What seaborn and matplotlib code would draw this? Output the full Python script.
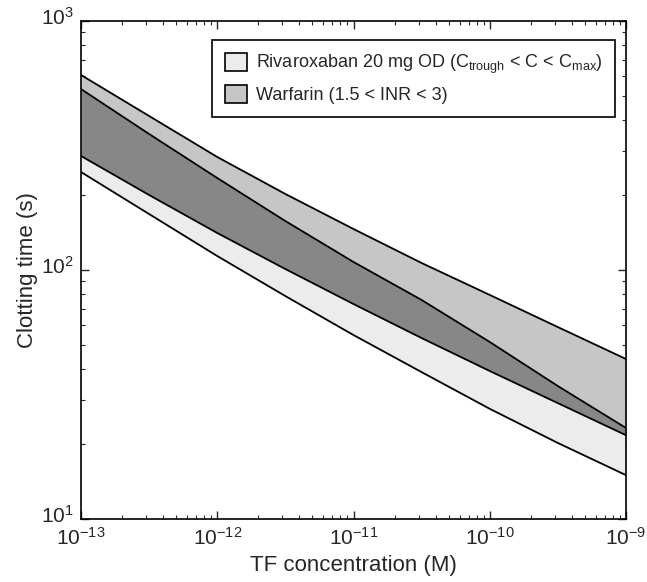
import numpy as np
import pandas as pd
import seaborn as sns
import matplotlib.pyplot as plt
import matplotlib.transforms as mtransforms
from matplotlib.patches import Patch

# TF concentration (M), half-decade steps
tf_conc = [1e-13, 3.16e-13, 1e-12, 3.16e-12, 1e-11, 3.16e-11, 1e-10, 3.16e-10, 1e-9]

# clotting time bands (s)
warf_hi = [607, 415.5, 284.4, 202.0, 146.1, 106.7, 79.4, 59.0, 43.9]
warf_lo = [287, 200.1, 140.8, 100.9, 73.0, 53.3, 39.3, 29.2, 21.7]
riva_hi = [533, 351.8, 234.1, 157.3, 107.7, 75.8, 51.4, 34.2, 23.2]
riva_lo = [247.5, 167.8, 113.8, 78.6, 54.8, 38.9, 27.7, 20.2, 15.0]

riva_label = r"Rivaroxaban 20 mg OD (C$_{\rm trough}$ < C < C$_{\rm max}$)"
warf_label = "Warfarin (1.5 < INR < 3)"

sns.set_style("ticks")
plt.rcParams['font.family'] = ['Liberation Sans', 'DejaVu Sans']
plt.rcParams['mathtext.fontset'] = 'custom'
plt.rcParams['mathtext.rm'] = 'Liberation Sans'
plt.rcParams['mathtext.it'] = 'Liberation Sans:italic'
plt.rcParams['mathtext.bf'] = 'Liberation Sans:bold'

c_riva = "#ececec"
c_warf = "#c6c6c6"
c_both = "#878787"

fig = plt.figure(figsize=(6.47, 5.82), dpi=100)
ax = fig.add_axes([81 / 647, 1 - 519 / 582, 545 / 647, 498 / 582])

ax.fill_between(tf_conc, riva_lo, riva_hi, color=c_riva, lw=0)
ax.fill_between(tf_conc, warf_lo, warf_hi, color=c_warf, lw=0)
ax.fill_between(tf_conc, warf_lo, riva_hi, color=c_both, lw=0)

df = pd.DataFrame({"tf": tf_conc, "wh": warf_hi, "wl": warf_lo,
                   "rh": riva_hi, "rl": riva_lo})
for col in ["wh", "wl", "rh", "rl"]:
    sns.lineplot(data=df, x="tf", y=col, color="black", lw=1.3, ax=ax)

ax.set_xscale("log")
ax.set_yscale("log")
ax.set_xlim(1e-13, 1e-9)
ax.set_ylim(10, 1000)
ax.set_xticks([1e-13, 1e-12, 1e-11, 1e-10, 1e-9])
ax.set_yticks([10, 100, 1000])

ax.tick_params(which="both", direction="in", top=True, right=True, labelsize=15)
ax.tick_params(which="major", length=6, width=1)
ax.tick_params(which="minor", length=3, width=0.8)
ax.tick_params(axis="x", which="major", pad=6)
ax.tick_params(axis="y", which="major", pad=5)
for s in ax.spines.values():
    s.set_linewidth(1.2)
    s.set_color("black")

# y tick labels sit a little high in the original
shift = mtransforms.ScaledTranslation(0, 5 / 100, fig.dpi_scale_trans)
for lab in ax.get_yticklabels():
    lab.set_transform(lab.get_transform() + shift)

ax.set_xlabel("TF concentration (M)", fontsize=16, labelpad=4)
ax.set_ylabel("Clotting time (s)", fontsize=16, labelpad=2)

handles = [Patch(facecolor=c_riva, edgecolor="black", lw=1.2),
           Patch(facecolor=c_warf, edgecolor="black", lw=1.2)]
leg = ax.legend(handles, [riva_label, warf_label], loc="upper right",
                bbox_to_anchor=(0.98, 0.962), borderaxespad=0,
                fancybox=False, edgecolor="black", framealpha=1,
                fontsize=13, handlelength=1.2, handleheight=1.2,
                handletextpad=0.5, labelspacing=0.5, borderpad=0.7)
leg.get_frame().set_linewidth(1.2)

fig.savefig("out.png", dpi=100)
